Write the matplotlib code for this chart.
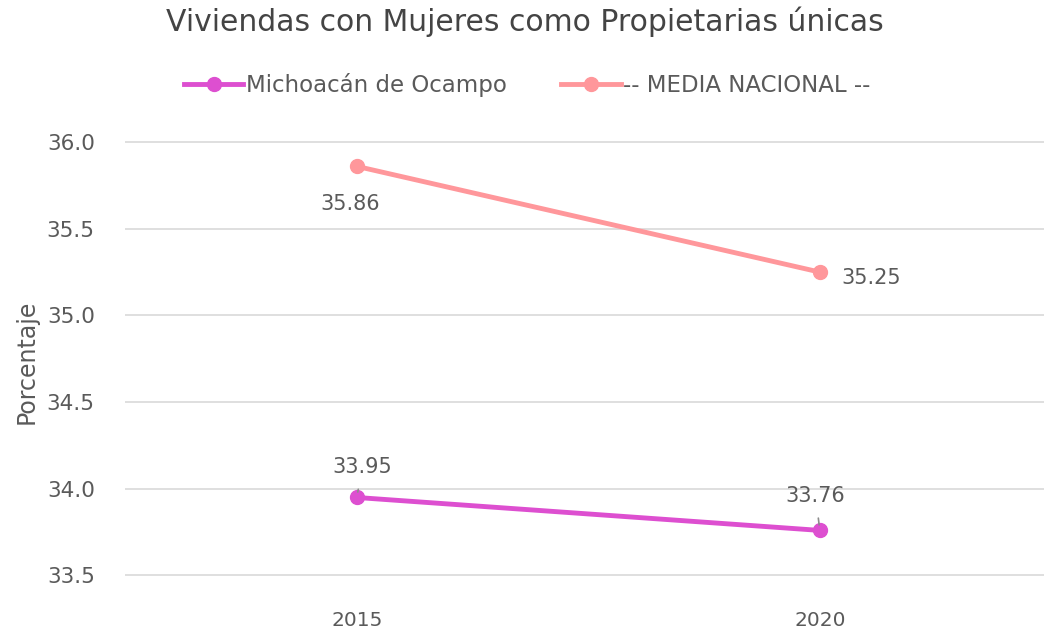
import matplotlib.pyplot as plt

plt.rcParams['font.family'] = ['DejaVu Sans']

years = ['2015', '2020']
michoacan = [33.95, 33.76]
nacional = [35.86, 35.25]
y_ticks = [33.5, 34.0, 34.5, 35.0, 35.5, 36.0]

c_mich = '#DD4FD0'
c_nac = '#FF979B'
c_text = '#5A5A5A'

fig = plt.figure(figsize=(10.44, 6.3), dpi=100)
ax = fig.add_axes([0.12, 0.048, 0.887, 0.754])

x = list(range(len(years)))
ax.plot(x, michoacan, color=c_mich, lw=3.5, marker='o', ms=10, label='Michoacán de Ocampo', zorder=3)
ax.plot(x, nacional, color=c_nac, lw=3.5, marker='o', ms=10, label='-- MEDIA NACIONAL --', zorder=3)

# data labels
lbl = dict(ha='center', va='center', fontsize=15, color=c_text, textcoords='offset points')
lead = dict(arrowstyle='-', color='#8C8C8C', lw=1.2, shrinkA=7, shrinkB=4)
ax.annotate(f'{nacional[0]:.2f}', (x[0], nacional[0]), xytext=(-5, -27), **lbl)
ax.annotate(f'{nacional[1]:.2f}', (x[1], nacional[1]), xytext=(37, -4), **lbl)
ax.annotate(f'{michoacan[0]:.2f}', (x[0], michoacan[0]), xytext=(4, 22), **lbl, arrowprops=lead)
ax.annotate(f'{michoacan[1]:.2f}', (x[1], michoacan[1]), xytext=(-3, 25), **lbl, arrowprops=lead)

ax.set_xlim(-0.5, 1.5)
ax.set_ylim(33.36, 36.1)
ax.set_xticks(x)
ax.set_xticklabels(years)
ax.set_yticks(y_ticks)
ax.set_yticklabels([f'{v:.1f}' for v in y_ticks])
ax.tick_params(axis='both', labelsize=14.5, labelcolor=c_text, length=0)
ax.tick_params(axis='y', labelsize=15.5, pad=22)
ax.tick_params(axis='x', pad=8)
ax.grid(axis='y', color='#D9D9D9', lw=1.2)
ax.set_axisbelow(True)
for s in ax.spines.values():
    s.set_visible(False)
ax.set_ylabel('Porcentaje', fontsize=17, color=c_text, labelpad=6)

fig.text(0.503, 0.965, 'Viviendas con Mujeres como Propietarias únicas', ha='center', va='center',
         fontsize=21.5, color='#444444')
fig.legend(loc='center', bbox_to_anchor=(0.505, 0.865), ncol=2, frameon=False, fontsize=16.5,
           labelcolor=c_text, handlelength=2.6, handletextpad=0.1, columnspacing=2.4)

fig.savefig('out.png', dpi=100)
